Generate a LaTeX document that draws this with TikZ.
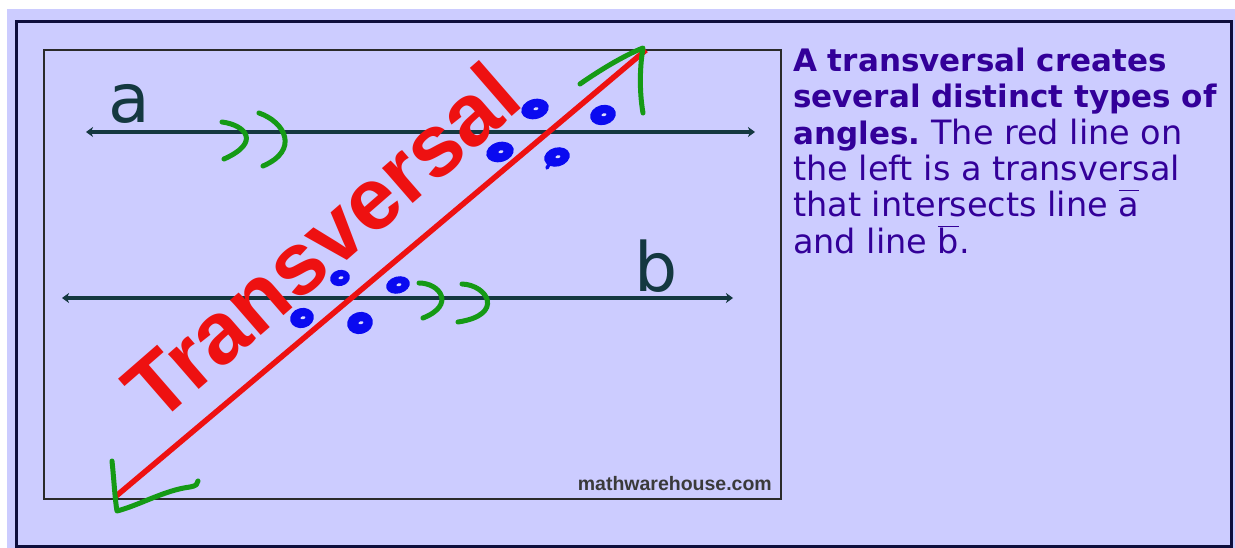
\documentclass[tikz,border=0pt]{standalone}
\usepackage{fontspec}
\usetikzlibrary{arrows.meta}
\newfontfamily\vfont{DejaVu Sans}
\newfontfamily\afont{Liberation Sans}
\definecolor{lav}{HTML}{CCCCFF}
\definecolor{framecol}{HTML}{0E0E3C}
\definecolor{innercol}{HTML}{2A2A2A}
\definecolor{linecol}{HTML}{143840}
\definecolor{redcol}{HTML}{EE1111}
\definecolor{greencol}{HTML}{159A15}
\definecolor{bluecol}{HTML}{0A0AF0}
\definecolor{txtcol}{HTML}{330099}
\definecolor{wmcol}{HTML}{3A3A3A}
\newcommand\barred[1]{$\overline{\hbox{#1\vphantom{b}}}$}
\tikzset{
  parline/.style={draw=linecol, line width=4.5pt, {Stealth[length=7pt,width=10pt,inset=2pt]}-{Stealth[length=7pt,width=10pt,inset=2pt]}},
  transv/.style={draw=redcol, line width=5.5pt},
  greenmark/.style={draw=greencol, line width=5pt, line cap=round, line join=round},
  bluedot/.style={fill=bluecol},
  holedot/.style={fill=lav!70!white},
  boldline/.style={anchor=base west, inner sep=0, text=txtcol, font=\vfont\bfseries\fontsize{31}{36}\selectfont},
  regline/.style={anchor=base west, inner sep=0, text=txtcol, font=\vfont\fontsize{33.5}{36}\selectfont},
  linelabel/.style={anchor=base west, inner sep=0, text=linecol, font=\vfont\fontsize{68}{70}\selectfont}
}
\begin{document}
\begin{tikzpicture}[x=1pt,y=-1pt]
\useasboundingbox (0,0) rectangle (1235,548);
\fill[white] (0,0) rectangle (1235,548);
\fill[lav] (7,9) rectangle (1235,548);
\draw[framecol, line width=3pt] (16,22) rectangle (1231,546);
\draw[innercol, line width=1.5pt] (44,50) rectangle (781,499);

% parallel lines
\coordinate (a1) at (86,132);
\coordinate (a2) at (755,132);
\coordinate (b1) at (62,298);
\coordinate (b2) at (733,298);
\draw[parline] (a1) -- (a2);
\draw[parline] (b1) -- (b2);
\node[linelabel] (la) at (108,123) {a};
\node[linelabel] (lb) at (634,291) {b};

% transversal
\coordinate (t1) at (115,497);
\coordinate (t2) at (646,50);
\draw[transv] (t1) -- (t2);
\node[anchor=base west, inner sep=0, rotate=41, text=redcol,
      font=\afont\bfseries\fontsize{88}{88}\selectfont] (tv) at (157,426) {Transversal};

% watermark
\node[anchor=base east, inner sep=0, text=wmcol,
      font=\afont\bfseries\fontsize{19.5}{20}\selectfont] (wm) at (772,490) {mathwarehouse.com};

% green marks: arrows
\draw[greenmark] (580,84) .. controls (600,70) and (625,55) .. (643,48)
   .. controls (640,65) and (639,90) .. (643,113);
\draw[greenmark] (112,461) .. controls (114,480) and (115,500) .. (117,511)
   .. controls (140,505) and (165,490) .. (190,487) .. controls (196,486) and (198,484) .. (198,481);
% green chevrons on line a
\draw[greenmark] (222,122) .. controls (245,125) and (262,142) .. (224,159);
\draw[greenmark] (259,113) .. controls (285,122) and (300,150) .. (263,166);
% green chevrons on line b
\draw[greenmark] (419,283) .. controls (440,283) and (456,305) .. (423,318);
\draw[greenmark] (462,284) .. controls (488,285) and (505,315) .. (458,322);

% blue dots
\foreach \x/\y/\rx/\ry in {535/109/14/10, 603/115/13/10, 500/152/14/10, 557/157/13/9.5, 398/285/12/8.5, 302/318/12/10, 360/323/13/11, 340/278/10/8}{
  \fill[bluedot, rotate around={15:(\x,\y)}] (\x,\y) ellipse ({\rx pt} and {\ry pt});
  \fill[holedot, rotate around={15:(\x,\y)}] (\x+1,\y) ellipse (2.5pt and 1.5pt);
}
\draw[bluecol, line width=3.5pt, line cap=round] (551,161) -- (547,168);

% text on the right
\node[boldline] (l1) at (793,71.7) {A transversal creates};
\node[boldline] (l2) at (793,108) {several distinct types of};
\node[boldline] (l3) at (793,144.3) {angles.};
\node[regline, anchor=base west] (l3b) at (l3.base east) {\ The red line on};
\node[regline] (l4) at (793,180.6) {the left is a transversal};
\node[regline] (l5) at (793,217) {that intersects line \barred{a}};
\node[regline] (l6) at (793,253.3) {and line \barred{b}.};
\end{tikzpicture}
\end{document}
